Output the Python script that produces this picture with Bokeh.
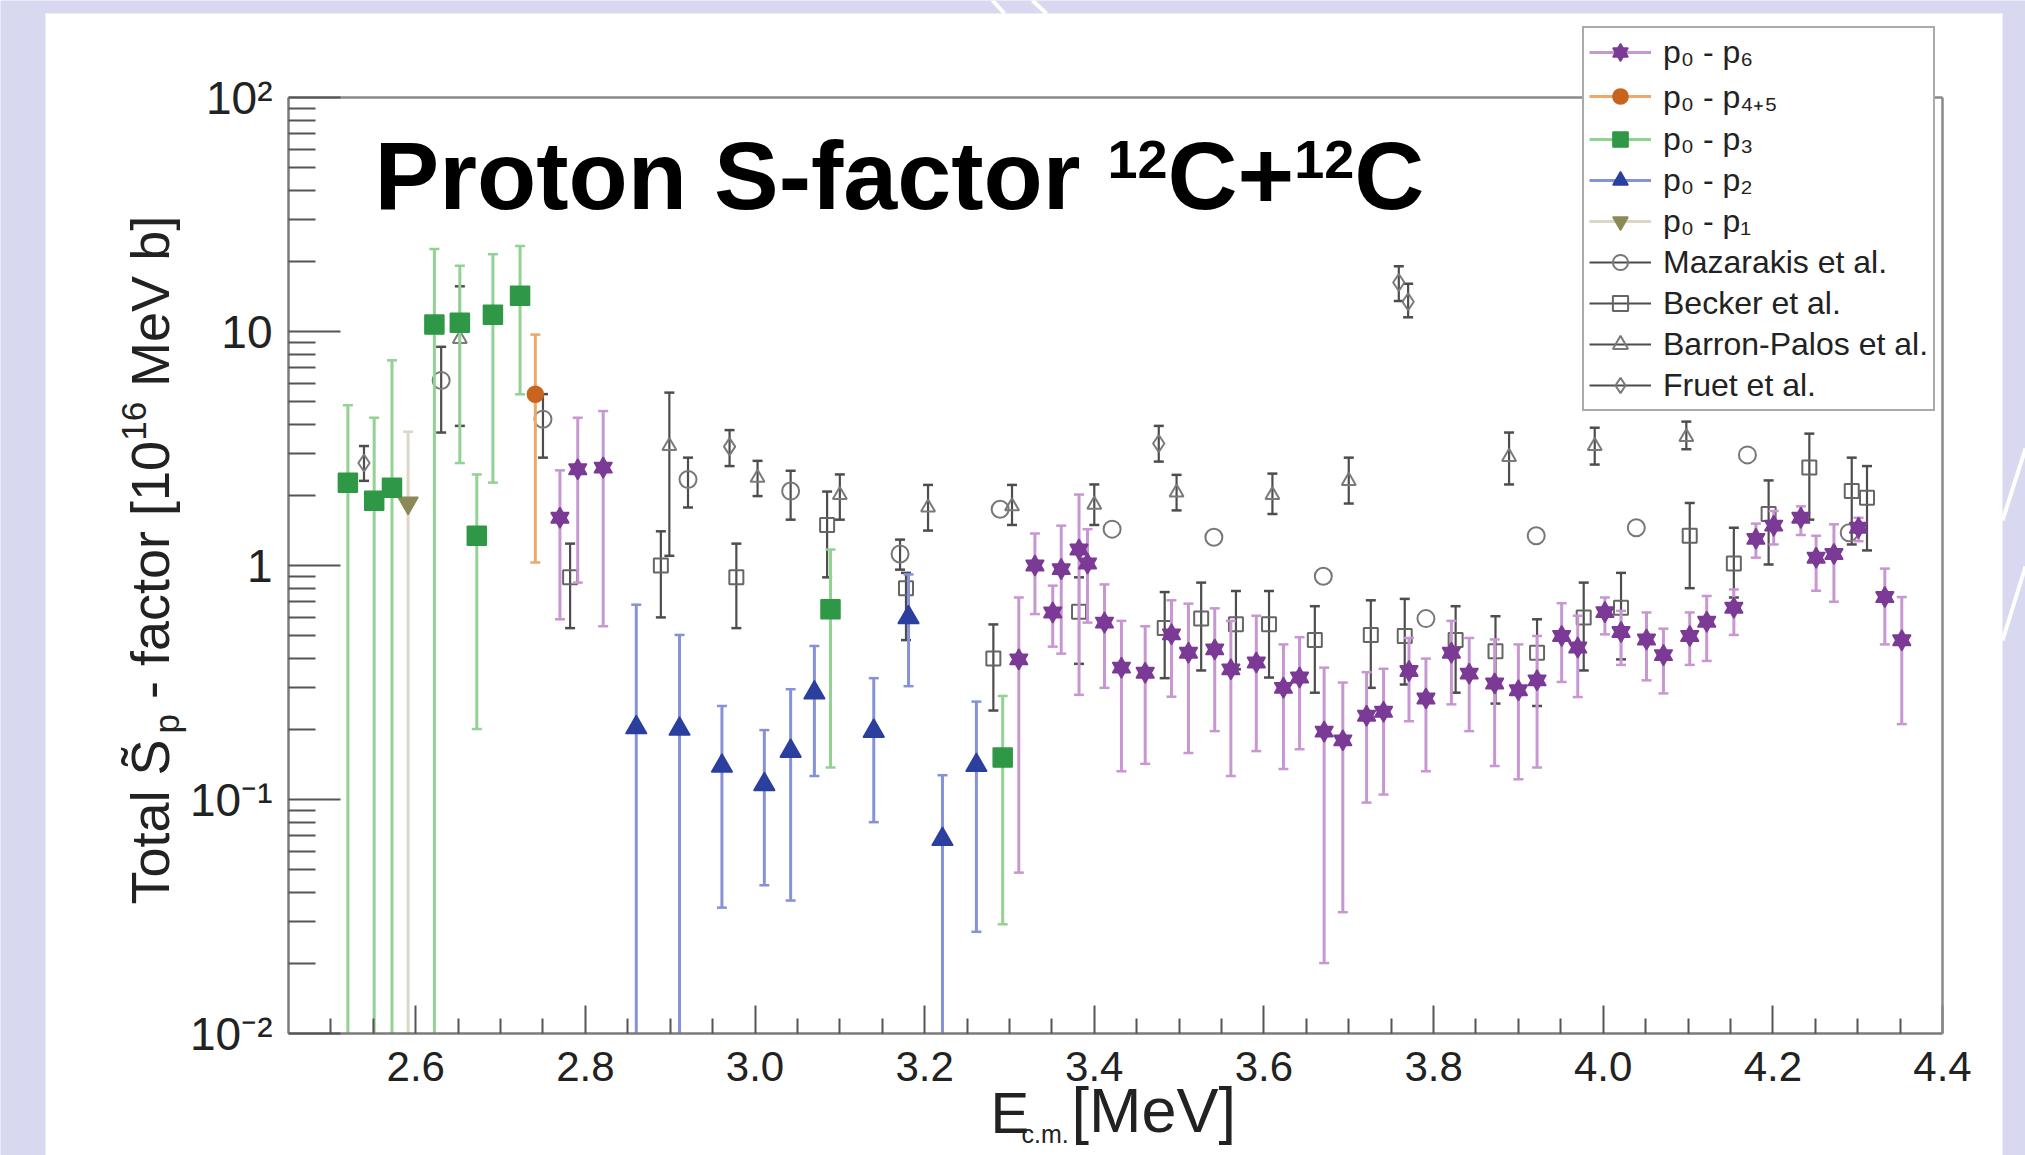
import math
from bokeh.plotting import figure
from bokeh.models import (ColumnDataSource, FixedTicker, Legend, LegendItem, Label, LinearAxis,
                          LogAxis, BoxAnnotation, Arrow)
from bokeh.embed import file_html
from bokeh.resources import INLINE

NAN = float("nan")
LOW = 0.001  # error bar runs below the axis

# ---------------- data ----------------
p6_x = [2.770, 2.791, 2.821, 3.311, 3.330, 3.351, 3.361, 3.382, 3.392, 3.412, 3.432, 3.460,
        3.491, 3.511, 3.542, 3.561, 3.591, 3.623, 3.642, 3.671, 3.693, 3.721, 3.741, 3.771,
        3.791, 3.821, 3.842, 3.872, 3.900, 3.922, 3.951, 3.970, 4.002, 4.021, 4.051, 4.071,
        4.102, 4.122, 4.154, 4.180, 4.201, 4.233, 4.251, 4.272, 4.301, 4.332, 4.352]
p6_y = [1.60, 2.58, 2.62, 0.397, 1.00, 0.63, 0.965, 1.17, 1.02, 0.57, 0.366, 0.348,
        0.508, 0.424, 0.438, 0.36, 0.385, 0.30, 0.332, 0.195, 0.179, 0.228, 0.237, 0.354,
        0.27, 0.424, 0.345, 0.313, 0.293, 0.323, 0.50, 0.446, 0.632, 0.52, 0.483, 0.414,
        0.50, 0.575, 0.66, 1.30, 1.48, 1.60, 1.08, 1.12, 1.45, 0.733, 0.479]
p6_lo = [0.589, 0.845, 0.55, 0.0487, 0.62, 0.45, 0.42, 0.28, 0.57, 0.30, 0.132, 0.142,
         0.275, 0.158, 0.196, 0.126, 0.161, 0.135, 0.164, 0.020, 0.033, 0.097, 0.105, 0.216,
         0.132, 0.255, 0.196, 0.139, 0.122, 0.137, 0.318, 0.274, 0.508, 0.376, 0.323, 0.284,
         0.376, 0.391, 0.505, 1.08, 1.23, 1.35, 0.78, 0.70, 1.27, 0.46, 0.21]
p6_hi = [2.55, 4.28, 4.57, 0.73, 1.37, 0.82, 1.48, 2.01, 1.43, 0.83, 0.58, 0.55,
         0.71, 0.687, 0.656, 0.58, 0.61, 0.46, 0.494, 0.366, 0.316, 0.35, 0.362, 0.49,
         0.40, 0.58, 0.49, 0.483, 0.46, 0.50, 0.69, 0.61, 0.73, 0.64, 0.63, 0.537,
         0.63, 0.741, 0.79, 1.51, 1.71, 1.79, 1.34, 1.50, 1.60, 0.97, 0.733]

p45_x = [2.741]
p45_y = [5.39]
p45_lo = [1.03]
p45_hi = [9.7]

p3_x = [2.520, 2.551, 2.572, 2.622, 2.652, 2.672, 2.691, 2.723, 3.089, 3.292]
p3_y = [2.26, 1.89, 2.15, 10.7, 10.9, 1.34, 11.8, 14.2, 0.65, 0.151]
p3_lo = [LOW, LOW, LOW, LOW, 2.74, 0.20, 2.26, 5.39, 0.137, 0.0293]
p3_hi = [4.84, 4.28, 7.53, 22.5, 19.1, 2.45, 21.4, 23.2, 1.17, 0.277]

p2_x = [2.860, 2.911, 2.961, 3.011, 3.042, 3.070, 3.140, 3.181, 3.221, 3.261]
p2_y = [0.203, 0.20, 0.139, 0.116, 0.161, 0.286, 0.196, 0.60, 0.0676, 0.140]
p2_lo = [LOW, LOW, 0.0345, 0.043, 0.037, 0.126, 0.080, 0.305, LOW, 0.0272]
p2_hi = [0.68, 0.505, 0.251, 0.198, 0.296, 0.453, 0.33, 0.916, 0.127, 0.262]

p1_x = [2.591]
p1_y = [1.85]
p1_lo = [LOW]
p1_hi = [3.73]

maz_x = [2.630, 2.750, 2.921, 3.042, 3.171, 3.289, 3.421, 3.541, 3.670, 3.791, 3.921, 4.039, 4.170, 4.290]
maz_y = [6.18, 4.22, 2.33, 2.08, 1.12, 1.74, 1.43, 1.32, 0.90, 0.593, 1.34, 1.45, 2.97, 1.38]
maz_lo = [3.70, 2.89, 1.77, 1.57, 0.96, NAN, NAN, NAN, NAN, NAN, NAN, NAN, NAN, NAN]
maz_hi = [8.6, 5.4, 2.89, 2.54, 1.29, NAN, NAN, NAN, NAN, NAN, NAN, NAN, NAN, NAN]

bec_x = [2.782, 2.889, 2.978, 3.085, 3.178, 3.281, 3.382, 3.483, 3.526, 3.567, 3.606, 3.660,
         3.726, 3.766, 3.826, 3.873, 3.922, 3.977, 4.021, 4.102, 4.154, 4.195, 4.243, 4.293, 4.311]
bec_y = [0.89, 1.00, 0.89, 1.49, 0.80, 0.40, 0.635, 0.54, 0.594, 0.561, 0.561, 0.48,
         0.505, 0.50, 0.48, 0.43, 0.424, 0.60, 0.66, 1.34, 1.02, 1.66, 2.62, 2.08, 1.95]
bec_lo = [0.54, 0.60, 0.54, 0.89, 0.48, 0.24, 0.38, 0.33, 0.356, 0.36, 0.332, 0.286,
          0.30, 0.31, 0.286, 0.257, 0.251, 0.356, 0.397, 0.80, 0.73, 1.01, 1.57, 1.23, 1.16]
bec_hi = [1.24, 1.40, 1.24, 2.07, 0.93, 0.56, 0.89, 0.77, 0.845, 0.778, 0.778, 0.67,
          0.71, 0.72, 0.67, 0.607, 0.589, 0.845, 0.93, 1.85, 1.45, 2.31, 3.66, 2.89, 2.66]

bar_x = [2.652, 2.899, 3.003, 3.100, 3.204, 3.303, 3.400, 3.497, 3.610, 3.700, 3.889, 3.990, 4.098]
bar_y = [9.3, 3.24, 2.37, 2.00, 1.77, 1.79, 1.82, 2.05, 2.00, 2.30, 2.91, 3.24, 3.54]
bar_lo = [3.95, 1.10, 1.98, 1.57, 1.41, 1.49, 1.49, 1.72, 1.66, 1.84, 2.22, 2.70, 3.14]
bar_hi = [15.6, 5.48, 2.80, 2.45, 2.21, 2.21, 2.22, 2.44, 2.47, 2.89, 3.70, 3.88, 4.12]

fru_x = [2.539, 2.970, 3.476, 3.759, 3.770]
fru_y = [2.74, 3.22, 3.32, 16.2, 13.4]
fru_lo = [2.30, 2.66, 2.78, 13.5, 11.5]
fru_hi = [3.24, 3.79, 3.95, 19.0, 16.0]

x_major = [2.6, 2.8, 3.0, 3.2, 3.4, 3.6, 3.8, 4.0, 4.2, 4.4]
x_labels = ["2.6", "2.8", "3.0", "3.2", "3.4", "3.6", "3.8", "4.0", "4.2", "4.4"]
x_minor = [2.5, 2.55, 2.65, 2.7, 2.75, 2.85, 2.9, 2.95, 3.05, 3.1, 3.15, 3.25, 3.3, 3.35,
           3.45, 3.5, 3.55, 3.65, 3.7, 3.75, 3.85, 3.9, 3.95, 4.05, 4.1, 4.15, 4.25, 4.3, 4.35]
y_major = [0.01, 0.1, 1, 10, 100]
y_labels = ["10\u207b\u00b2", "10\u207b\u00b9", "1", "10", "10\u00b2"]
y_minor = [k * d for d in (0.01, 0.1, 1, 10) for k in range(2, 10)]

# ---------------- geometry (page pixels) ----------------
W, H = 2025, 1155
AX_L, AX_R, AX_T, AX_B = 288, 1942, 97, 1033      # plot box on the page
X0, X1 = 2.45, 4.4
Y0, Y1 = 0.01, 100.0
LY0, LY1 = math.log10(Y0), math.log10(Y1)
SX = (AX_R - AX_L) / (X1 - X0)
SY = (AX_B - AX_T) / (LY1 - LY0)


def xd(px):
    return X0 + (px - AX_L) / SX


def yd(py):
    return 10 ** (LY1 - (py - AX_T) / SY)


FONT = "Liberation Sans"
LAV = "#d8d8f0"

p = figure(width=W, height=H, x_range=(xd(0), xd(W)), y_range=(yd(H), yd(0)),
           y_axis_type="log", output_backend="svg", toolbar_location=None,
           min_border=0, min_border_left=0, min_border_right=0, min_border_top=0,
           min_border_bottom=0)
p.title.visible = False
p.background_fill_color = LAV
p.border_fill_color = LAV
p.outline_line_color = None
p.xgrid.visible = False
p.ygrid.visible = False

# white slide panel and decorative strokes of the background
p.add_layout(BoxAnnotation(left=xd(45), right=xd(2002), top=yd(13), fill_color="white",
                           fill_alpha=1.0, line_color=None, level="underlay"))
for (xa, ya, xb, yb) in [(992, 0, 1004, 13), (1032, 0, 1046, 13),
                         (2002, 520, 2025, 448), (2002, 640, 2025, 566)]:
    p.add_layout(Arrow(end=None, x_start=xd(xa), y_start=yd(ya), x_end=xd(xb), y_end=yd(yb),
                       line_color="white", line_width=4, level="underlay"))

# axes at fixed locations so that the plot box sits where the picture has it
p.xaxis.fixed_location = Y0
p.yaxis.fixed_location = X0
p.xaxis.bounds = (X0, X1)
p.yaxis.bounds = (Y0, Y1)
p.xaxis.ticker = FixedTicker(ticks=x_major, minor_ticks=x_minor)
p.yaxis.ticker = FixedTicker(ticks=y_major, minor_ticks=y_minor)
p.xaxis.major_label_overrides = {v: s for v, s in zip(x_major, x_labels)}
p.yaxis.major_label_overrides = {v: s for v, s in zip(y_major, y_labels)}
for ax in (p.xaxis, p.yaxis):
    ax.axis_line_color = "#7a7a7a"
    ax.axis_line_width = 2.5
    ax.major_tick_line_color = "#555555"
    ax.minor_tick_line_color = "#555555"
    ax.major_tick_line_width = 2
    ax.minor_tick_line_width = 2
    ax.major_tick_out = 0
    ax.minor_tick_out = 0
    ax.major_label_text_font = FONT
    ax.major_label_text_color = "#222222"
p.xaxis.major_tick_in = 28
p.xaxis.minor_tick_in = 15
p.xaxis.major_label_text_font_size = "42px"
p.xaxis.major_label_standoff = 18
p.yaxis.major_tick_in = 52
p.yaxis.minor_tick_in = 27
p.yaxis.major_label_text_font_size = "46px"
p.yaxis.major_label_standoff = 16

# top and right frame lines
top = LinearAxis(fixed_location=Y1, bounds=(X0, X1), ticker=FixedTicker(ticks=[], minor_ticks=[]),
                 axis_line_color="#8a8a8a", axis_line_width=2.5, major_label_text_font_size="0px")
right = LogAxis(fixed_location=X1, bounds=(Y0, Y1), ticker=FixedTicker(ticks=[], minor_ticks=[]),
                axis_line_color="#8a8a8a", axis_line_width=2.5, major_label_text_font_size="0px")
p.add_layout(top, "above")
p.add_layout(right, "right")


def series(xs, ys, lo, hi, marker, size, fill, line, bar, bar_w=3.0, lw=1.5):
    lo_bar = [max(v, Y0) if v == v else v for v in lo]
    lo_cap = [v if (v == v and v >= Y0) else NAN for v in lo]
    src = ColumnDataSource(dict(x=xs, y=ys, lo=lo_bar, hi=hi, locap=lo_cap))
    seg = p.segment(x0="x", y0="lo", x1="x", y1="hi", source=src,
                    line_color=bar, line_width=bar_w)
    p.scatter("x", "locap", marker="dash", size=10, line_color=bar, line_width=2.5, source=src)
    p.scatter("x", "hi", marker="dash", size=10, line_color=bar, line_width=2.5, source=src)
    ms = []
    markers = marker if isinstance(marker, list) else [marker]
    for mk in markers:
        ms.append(p.scatter("x", "y", marker=mk, size=size, fill_color=fill,
                            line_color=line, line_width=lw, source=src))
    return [seg] + ms


GRAY_BAR = "#4d4d4d"
r_fru = series(fru_x, fru_y, fru_lo, fru_hi, "diamond", 17, None, "#7a7a7a", GRAY_BAR, 2.2, 2)
r_bar = series(bar_x, bar_y, bar_lo, bar_hi, "triangle", 14, None, "#7a7a7a", GRAY_BAR, 2.2, 2)
r_bec = series(bec_x, bec_y, bec_lo, bec_hi, "square", 14, None, "#666666", GRAY_BAR, 2.2, 2)
r_maz = series(maz_x, maz_y, maz_lo, maz_hi, "circle", 17, None, "#777777", GRAY_BAR, 2.2, 2)

r_p1 = series(p1_x, p1_y, p1_lo, p1_hi, "inverted_triangle", 20, "#8b8a57", "#8b8a57", "#dad7c7")
r_p2 = series(p2_x, p2_y, p2_lo, p2_hi, "triangle", 21, "#2b3f9e", "#2b3f9e", "#8592d8")
r_p3 = series(p3_x, p3_y, p3_lo, p3_hi, "square", 19, "#2f9846", "#2f9846", "#92d292")
r_p45 = series(p45_x, p45_y, p45_lo, p45_hi, "circle", 16, "#c8641e", "#c8641e", "#eda86c")
r_p6 = series(p6_x, p6_y, p6_lo, p6_hi, ["triangle", "inverted_triangle"], 18,
              "#7b3a96", "#7b3a96", "#c897d2")

items = [
    LegendItem(label="p\u2080 - p\u2086", renderers=r_p6),
    LegendItem(label="p\u2080 - p\u2084\u208a\u2085", renderers=r_p45),
    LegendItem(label="p\u2080 - p\u2083", renderers=r_p3),
    LegendItem(label="p\u2080 - p\u2082", renderers=r_p2),
    LegendItem(label="p\u2080 - p\u2081", renderers=r_p1),
    LegendItem(label="Mazarakis et al.", renderers=r_maz),
    LegendItem(label="Becker et al.", renderers=r_bec),
    LegendItem(label="Barron-Palos et al.", renderers=r_bar),
    LegendItem(label="Fruet et al.", renderers=r_fru),
]
LEG_LEFT, LEG_BOTTOM = 1582, 411
legend = Legend(items=items, location=(LEG_LEFT, H - LEG_BOTTOM),
                label_text_font=FONT, label_text_font_size="32px", label_text_color="#222222",
                glyph_width=62, glyph_height=38, label_height=38, spacing=3, padding=5, margin=0,
                label_standoff=12, border_line_color="#555555", border_line_width=2.5,
                background_fill_color="white", background_fill_alpha=1.0)
p.add_layout(legend)

SHIFT = 0.35  # distance from the text anchor to its baseline, in font sizes
SPACE = 0.278  # width of a space, in font sizes


def label(px, py, text, size, bold=False, vertical=False, color="#111111"):
    if vertical:
        ax_, ay_ = px - SHIFT * size, py
    else:
        ax_, ay_ = px, py - SHIFT * size
    p.add_layout(Label(x=xd(ax_), y=yd(ay_), text=text, text_font=FONT,
                       text_font_size=f"{size}px", text_font_style="bold" if bold else "normal",
                       text_color=color, text_align="left", text_baseline="alphabetic",
                       angle=math.pi / 2 if vertical else 0.0))


# title "Proton S-factor 12C+12C"
F, FS = 97, 54
RAISE = 0.716 * (F - FS)
BASE = 209
x = 374
for txt, size, up, w in [("Proton S-factor", F, 0, 7.278 + SPACE), ("12", FS, RAISE, 1.112),
                         ("C+", F, 0, 1.306), ("12", FS, RAISE, 1.112), ("C", F, 0, 0.722)]:
    label(x, BASE - up, txt, size, bold=True, color="black")
    x += w * size

# x-axis title  E_c.m. [MeV]
label(990, 1132, "E", 58, color="#222222")
label(1021, 1142, "c.m.", 25, color="#222222")
label(1071, 1132, "[MeV]", 63, color="#222222")

# y-axis title  Total S~_p - factor [10^16 MeV b]  (rotated)
YF, YS = 54, 35
BX = 168
y = 904
for txt, size, dx, gap, w in [("Total S\u0303", YF, 0, 0, 3.168), ("p", YS, 10, 0, 0.556),
                              ("- factor [10", YF, 0, SPACE * YF, 4.780),
                              ("16", YS, -22, 0, 1.112),
                              ("MeV b]", YF, 0, SPACE * YF, 3.168)]:
    y -= gap
    label(BX + dx, y, txt, size, vertical=True, color="#222222")
    y -= w * size

open("out.html", "w").write(file_html(p, INLINE))
